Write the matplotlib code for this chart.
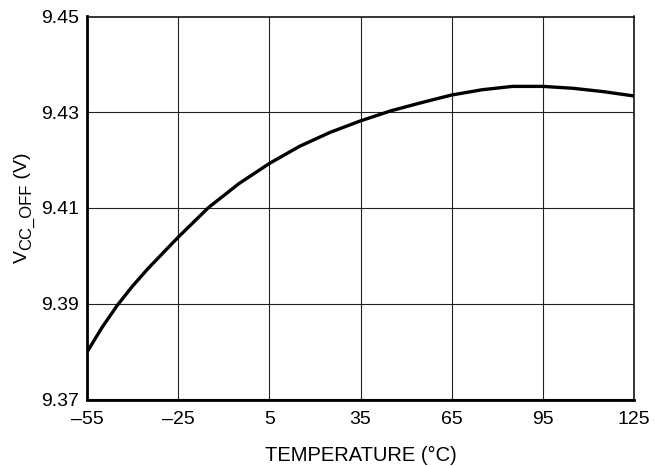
import matplotlib.pyplot as plt

plt.rcParams['font.family'] = ['Liberation Sans', 'DejaVu Sans']

# Temperature (C) and VCC_OFF (V)
temps = [-55, -50, -45, -40, -35, -25, -15, -5, 5, 15, 25, 35, 45, 55, 65, 75, 85, 95, 105, 115, 125]
vcc_off = [9.3799, 9.3851, 9.3897, 9.3937, 9.3973, 9.4039, 9.4101, 9.4151, 9.4193, 9.4229, 9.4258,
           9.4282, 9.4303, 9.4320, 9.4336, 9.4347, 9.4354, 9.4354, 9.4350, 9.4343, 9.4334]

x_ticks = [-55, -25, 5, 35, 65, 95, 125]
x_labels = ['\u201355', '\u201325', '5', '35', '65', '95', '125']
y_ticks = [9.37, 9.39, 9.41, 9.43, 9.45]
y_labels = ['9.37', '9.39', '9.41', '9.43', '9.45']

W, H = 657, 466
fig = plt.figure(figsize=(W / 100, H / 100), dpi=100)
ax = fig.add_axes([87 / W, 1 - 399.5 / H, 547 / W, 383 / H])

ax.plot(temps, vcc_off, color='black', linewidth=2.4, solid_joinstyle='round')

ax.set_xlim(-55, 125)
ax.set_ylim(9.37, 9.45)
ax.set_xticks(x_ticks)
ax.set_xticklabels(x_labels)
ax.set_yticks(y_ticks)
ax.set_yticklabels(y_labels)
ax.tick_params(length=0, labelsize=14)
ax.tick_params(axis='x', pad=8)
ax.tick_params(axis='y', pad=6)

ax.grid(True, color='#222222', linewidth=0.8)
ax.set_axisbelow(True)

for side in ['left', 'bottom']:
    ax.spines[side].set_linewidth(2.0)
for side in ['top', 'right']:
    ax.spines[side].set_linewidth(1.1)

ax.set_xlabel('TEMPERATURE (\u00b0C)', fontsize=14.5, labelpad=13)

# y label: V with a large subscript, built from rotated pieces
renderer = fig.canvas.get_renderer()
pieces = [('V', 14, 27), ('CC_OFF', 12, 31), (' (V)', 14, 27)]
texts = []
for s, size, xb in pieces:
    t = fig.text(xb / W, 0, s, fontsize=size, rotation=90, rotation_mode='anchor',
                 ha='left', va='baseline')
    texts.append(t)
lengths = [t.get_window_extent(renderer).height for t in texts]
y = 208 + sum(lengths) / 2  # centre on the axes, measured from the top
y_pix = H - y
for t, L in zip(texts, lengths):
    t.set_y(y_pix / H)
    y_pix += L

fig.savefig('out.png', dpi=100)
